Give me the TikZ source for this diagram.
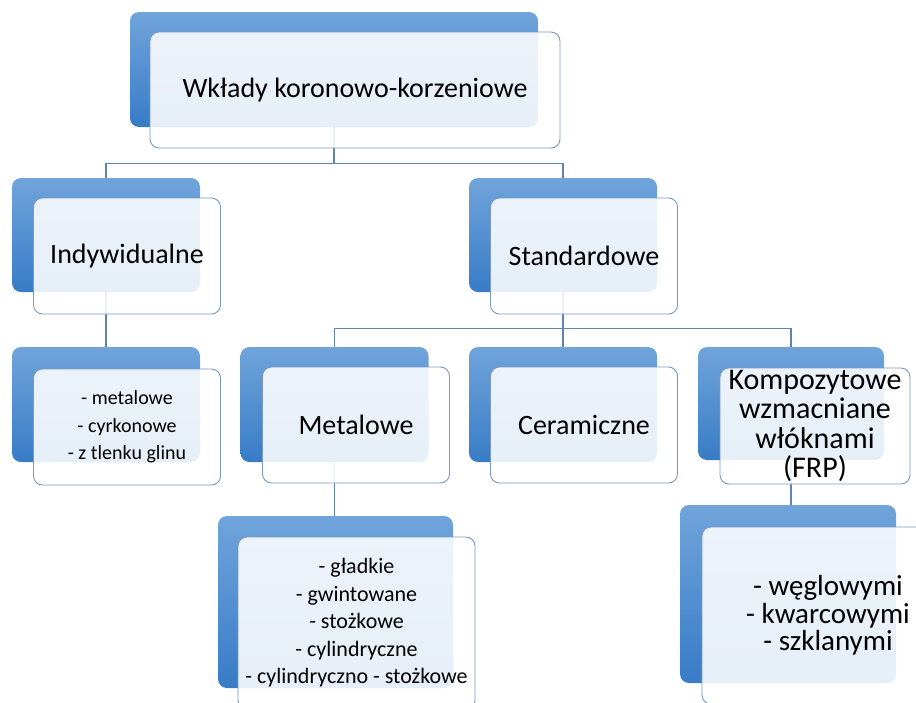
\documentclass[tikz,border=0pt]{standalone}
\usepackage{fontspec}
\setmainfont{Carlito}
\usetikzlibrary{positioning}
\pgfdeclarelayer{bg}
\pgfsetlayers{bg,main}
\definecolor{backtop}{RGB}{112,164,219}
\definecolor{backbot}{RGB}{56,124,198}
\definecolor{frontline}{RGB}{122,152,192}
\definecolor{linkline}{RGB}{96,132,178}

\begin{document}
\begin{tikzpicture}[
    x=1pt, y=-1pt,
    backbox/.style={rounded corners=9pt, top color=backtop, bottom color=backbot,
      inner sep=0pt},
    frontbox/.style={rounded corners=9pt, draw=frontline, line width=0.9pt,
      fill=white, fill opacity=0.88, text opacity=1, inner sep=0pt, align=center},
    title/.style={font=\fontsize{28}{30}\selectfont},
    items/.style={font=\fontsize{22}{27.5}\selectfont},
    link/.style={draw=linkline, line width=1.1pt},
  ]
  \useasboundingbox (0,0) rectangle (916,702);

  % ---- root ----
  \node[backbox, minimum width=408pt, minimum height=115pt] (rootB) at (334,69.5) {};
  \node[frontbox, title, minimum width=410pt, minimum height=116pt] (root) at (355,90)
    {Wkłady koronowo-korzeniowe};

  % ---- second level ----
  \node[backbox, minimum width=188pt, minimum height=114pt] (indywB) at (106,235) {};
  \node[frontbox, title, minimum width=187pt, minimum height=116pt] (indyw) at (127,256)
    {Indywidualne};

  \node[backbox, minimum width=188pt, minimum height=114pt] (standB) at (563,235) {};
  \node[frontbox, title, minimum width=187pt, minimum height=116pt] (stand) at (584,256)
    {Standardowe};

  % ---- third level ----
  \node[backbox, minimum width=188pt, minimum height=115pt] (indlistB) at (106,404.5) {};
  \node[frontbox, font=\fontsize{20}{27.5}\selectfont, minimum width=187pt,
    minimum height=116pt] (indlist) at (127,427)
    {- metalowe\\ - cyrkonowe\\ - z tlenku glinu};

  \node[backbox, minimum width=188pt, minimum height=115pt] (metalB) at (334.5,404.5) {};
  \node[frontbox, title, minimum width=187pt, minimum height=116pt] (metal) at (356,425)
    {Metalowe};

  \node[backbox, minimum width=188pt, minimum height=115pt] (ceramB) at (563,404.5) {};
  \node[frontbox, title, minimum width=187pt, minimum height=116pt] (ceram) at (584,425)
    {Ceramiczne};

  \node[backbox, minimum width=186pt, minimum height=113pt] (kompB) at (791,403.5) {};
  \node[frontbox, font=\fontsize{30}{29.5}\selectfont, minimum width=190pt,
    minimum height=116pt] (komp) at (815,426)
    {Kompozytowe\\ wzmacniane\\ włóknami\\ (FRP)};

  % ---- fourth level ----
  \node[backbox, minimum width=235pt, minimum height=172pt] (metlistB) at (335.5,602) {};
  \node[frontbox, items, minimum width=237pt, minimum height=172pt] (metlist) at (356.5,623)
    {- gładkie\\ - gwintowane\\ - stożkowe\\ - cylindryczne\\ - cylindryczno - stożkowe};

  \node[backbox, minimum width=216pt, minimum height=178pt] (frplistB) at (788,594) {};
  \node[frontbox, font=\fontsize{29}{27.5}\selectfont, minimum width=252pt,
    minimum height=177pt] (frplist) at (828,615.5)
    {- węglowymi\\ - kwarcowymi\\ - szklanymi};

  % ---- connectors, behind the boxes ----
  \begin{pgfonlayer}{bg}
    \draw[link] (rootB.south) -- ++(0,36) -| (indywB.north);
    \draw[link] (rootB.south) -- ++(0,36) -| (standB.north);
    \draw[link] (indywB.south) -- (indlistB.north);
    \draw[link] (standB.south) -- ++(0,36) -| (metalB.north);
    \draw[link] (standB.south) -- (ceramB.north);
    \draw[link] (standB.south) -- ++(0,36) -| (kompB.north);
    \draw[link] (metalB.south) -- (metalB.south |- metlistB.north);
    \draw[link] (kompB.south) -- (kompB.south |- frplistB.north);
  \end{pgfonlayer}

\end{tikzpicture}
\end{document}
